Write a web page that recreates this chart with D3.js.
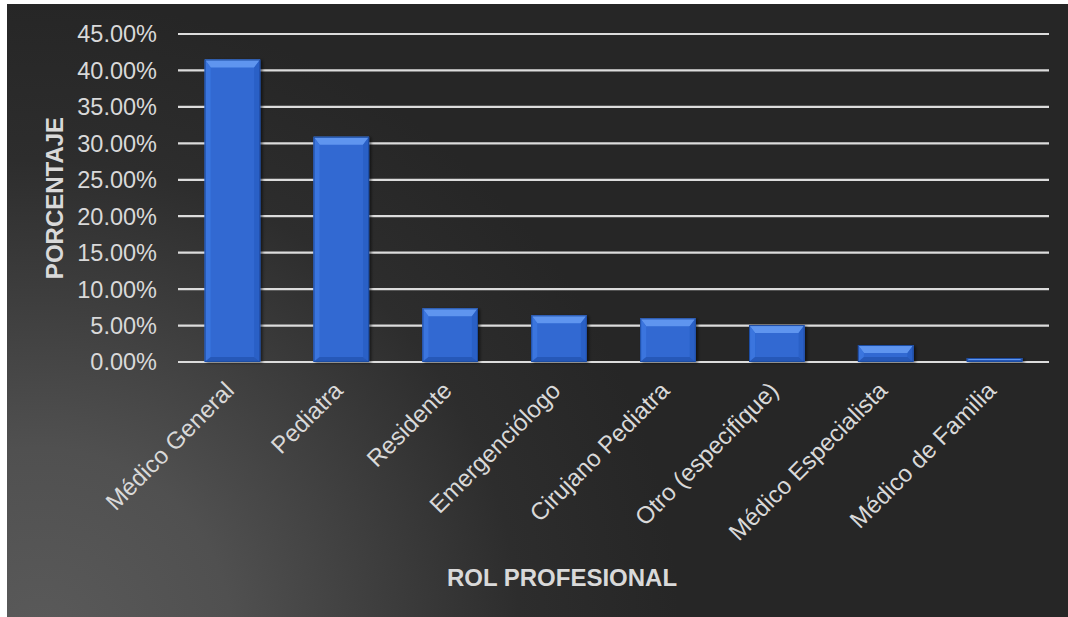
<!DOCTYPE html>
<html>
<head>
<meta charset="utf-8">
<script src="https://cdn.jsdelivr.net/npm/d3@7"></script>
<style>
  html, body { margin: 0; padding: 0; background: #ffffff; }
  svg { display: block; }
  text { font-family: "Liberation Sans", Arial, sans-serif; }
</style>
</head>
<body>
<svg id="chart" width="1068" height="617"></svg>
<script>
// Roles and their share of respondents
const categories = [
  "Médico General", "Pediatra", "Residente", "Emergenciólogo",
  "Cirujano Pediatra", "Otro (especifique)", "Médico Especialista", "Médico de Familia"
];
const values = [0.415, 0.309, 0.0736, 0.064, 0.0599, 0.0507, 0.0233, 0.0055];
const yTicks = [0, 0.05, 0.10, 0.15, 0.20, 0.25, 0.30, 0.35, 0.40, 0.45];
const yTitle = "PORCENTAJE";
const xTitle = "ROL PROFESIONAL";

const W = 1068, H = 617;
const plot = { left: 178, right: 1049, top: 34, bottom: 362 };

const svg = d3.select("#chart");
const defs = svg.append("defs");

// Dark background, lighter toward the lower-left corner
const bg = defs.append("radialGradient")
  .attr("id", "bgGrad")
  .attr("gradientUnits", "userSpaceOnUse")
  .attr("cx", 40).attr("cy", 640).attr("r", 640);
bg.append("stop").attr("offset", 0).attr("stop-color", "#5a5a5a");
bg.append("stop").attr("offset", 0.3).attr("stop-color", "#505050");
bg.append("stop").attr("offset", 0.75).attr("stop-color", "#2d2d2d");
bg.append("stop").attr("offset", 1).attr("stop-color", "#262626");

const shadow = defs.append("filter").attr("id", "barShadow")
  .attr("x", "-20%").attr("y", "-20%").attr("width", "150%").attr("height", "150%");
shadow.append("feDropShadow")
  .attr("dx", 2).attr("dy", 1).attr("stdDeviation", 1.5)
  .attr("flood-color", "#000").attr("flood-opacity", 0.55);

svg.append("rect")
  .attr("x", 7).attr("y", 4)
  .attr("width", W - 7).attr("height", H - 4)
  .attr("fill", "url(#bgGrad)");

const x = d3.scaleBand()
  .domain(categories)
  .range([plot.left, plot.right])
  .paddingInner(0.49)
  .paddingOuter(0.245);

const y = d3.scaleLinear()
  .domain([0, 0.45])
  .range([plot.bottom, plot.top]);

// Horizontal gridlines
svg.append("g")
  .selectAll("line")
  .data(yTicks)
  .join("line")
  .attr("x1", plot.left).attr("x2", plot.right)
  .attr("y1", d => y(d)).attr("y2", d => y(d))
  .attr("stroke", "#dcdcdc")
  .attr("stroke-width", 2.2);

// Y tick labels
const fmt = d3.format(".2%");
svg.append("g")
  .selectAll("text")
  .data(yTicks)
  .join("text")
  .attr("x", 157)
  .attr("y", d => y(d))
  .attr("dy", "0.36em")
  .attr("text-anchor", "end")
  .attr("fill", "#d9d9d9")
  .attr("font-size", 23.5)
  .text(d => fmt(d));

// Bevelled bars
const bars = svg.append("g")
  .selectAll("g")
  .data(categories.map((c, i) => ({ c, v: values[i] })))
  .join("g")
  .attr("filter", "url(#barShadow)");

bars.each(function(d) {
  const g = d3.select(this);
  const x0 = x(d.c), x1 = x0 + x.bandwidth();
  const y0 = y(d.v), y1 = y(0);
  const h = y1 - y0;
  const bt = Math.min(8, h / 2), bs = Math.min(6, h / 2), bb = Math.min(5, h / 2);
  const ix0 = x0 + bs, ix1 = x1 - bs, iy0 = y0 + bt, iy1 = y1 - bb;
  const poly = pts => pts.map(p => p.join(",")).join(" ");
  g.append("rect")
    .attr("x", x0).attr("y", y0).attr("width", x1 - x0).attr("height", h)
    .attr("fill", "#3069d2");
  g.append("polygon").attr("points", poly([[x0, y0], [x1, y0], [ix1, iy0], [ix0, iy0]]))
    .attr("fill", "#5e95ef");
  g.append("polygon").attr("points", poly([[x0, y0], [ix0, iy0], [ix0, iy1], [x0, y1]]))
    .attr("fill", "#3b75de");
  g.append("polygon").attr("points", poly([[x1, y0], [x1, y1], [ix1, iy1], [ix1, iy0]]))
    .attr("fill", "#2b60c6");
  g.append("polygon").attr("points", poly([[x0, y1], [ix0, iy1], [ix1, iy1], [x1, y1]]))
    .attr("fill", "#2858b8");
  g.append("rect")
    .attr("x", x0 + 0.5).attr("y", y0 + 0.5)
    .attr("width", x1 - x0 - 1).attr("height", Math.max(0, h - 1))
    .attr("fill", "none").attr("stroke", "#1f4da3").attr("stroke-width", 1);
});

// Rotated category labels
svg.append("g")
  .selectAll("text")
  .data(categories)
  .join("text")
  .attr("transform", d => `translate(${x(d) + x.bandwidth() / 2 + 3},${392}) rotate(-45)`)
  .attr("text-anchor", "end")
  .attr("fill", "#d9d9d9")
  .attr("font-size", 24)
  .text(d => d);

// Axis titles
svg.append("text")
  .attr("x", 562).attr("y", 586)
  .attr("text-anchor", "middle")
  .attr("fill", "#d9d9d9")
  .attr("font-size", 24)
  .attr("font-weight", "bold")
  .text(xTitle);

svg.append("text")
  .attr("transform", `translate(63,${(plot.top + plot.bottom) / 2}) rotate(-90)`)
  .attr("text-anchor", "middle")
  .attr("fill", "#d9d9d9")
  .attr("font-size", 24)
  .attr("font-weight", "bold")
  .text(yTitle);
</script>
</body>
</html>
